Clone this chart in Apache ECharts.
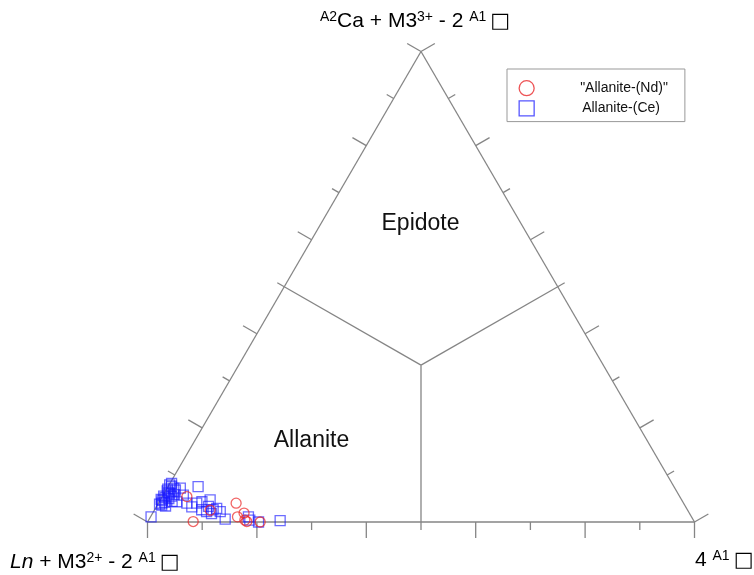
<!DOCTYPE html>
<html><head><meta charset="utf-8">
<script src="https://cdn.jsdelivr.net/npm/echarts@6/dist/echarts.min.js"></script>
<style>html,body{margin:0;padding:0;background:#fff}#c{width:754px;height:575px}</style>
</head><body><div id="c"></div>
<script>
// ---- data: ternary compositions in % ----
// components: Ln (bottom-left apex), Ca (top apex), vacancy (bottom-right apex)
const seriesNames = ['"Allanite-(Nd)"', 'Allanite-(Ce)'];

const ndLn  = [90.1, 91.6, 81.8, 83.0, 81.4, 82.0, 81.8, 79.4, 87.3];
const ndCa  = [ 5.4,  0.1,  4.0,  1.1,  1.9,  0.4,  0.1,  0.0,  2.5];
const ndVac = [ 4.5,  8.3, 14.2, 15.9, 16.7, 17.6, 18.1, 20.6, 10.2];

const ceLn  = [98.8, 91.5, 92.0, 91.6, 93.1, 93.0, 94.3, 93.6, 95.0, 94.8, 95.9, 95.0, 92.2, 93.3, 90.4, 87.0, 90.6, 92.5, 90.8, 90.3, 89.0, 87.9, 86.2, 87.2, 88.8, 88.1, 86.7, 85.9, 87.4, 85.6, 85.5, 81.0, 79.7, 75.6, 81.1, 91.8, 92.8, 93.0, 94.2, 95.1, 95.4, 91.5, 92.9, 95.6];
const ceCa  = [ 1.1,  8.2,  7.9,  7.2,  6.6,  6.0,  5.5,  5.0,  4.6,  4.2,  3.8,  3.4,  5.8,  4.4,  7.2,  7.5,  5.7,  4.3,  4.0,  3.2,  4.0,  4.3,  4.7,  3.3,  2.6,  2.2,  2.6,  2.9,  1.8,  2.2,  0.6,  1.1,  0.0,  0.3,  0.4,  7.6,  7.0,  6.3,  5.2,  4.8,  4.0,  6.8,  5.5,  3.6];
const ceVac = [ 0.1,  0.3,  0.1,  1.2,  0.3,  1.0,  0.2,  1.4,  0.4,  1.0,  0.3,  1.6,  2.0,  2.3,  2.4,  5.5,  3.7,  3.2,  5.2,  6.5,  7.0,  7.8,  9.1,  9.5,  8.6,  9.7, 10.7, 11.2, 10.8, 12.2, 13.9, 17.9, 20.3, 24.1, 18.5,  0.6,  0.2,  0.7,  0.6,  0.1,  0.6,  1.7,  1.6,  0.8];

const tickValues = [0, 10, 20, 30, 40, 50, 60, 70, 80, 90, 100];
const regionNames = ['Epidote', 'Allanite'];

// ---- ternary -> cartesian (x: 0..1 across base, y: 0..1 up to Ca apex) ----
function toXY(ln, ca, vac) {
  const s = ln + ca + vac;
  const a = ca / s, c = vac / s;
  return [c + a / 2, a];
}
const ndPts = ndLn.map((v, i) => toXY(v, ndCa[i], ndVac[i]));
const cePts = ceLn.map((v, i) => toXY(v, ceCa[i], ceVac[i]));

// frame: edges, inner boundary lines and ticks
const frameItems = [];
function seg(p, q) { const A = toXY(...p), B = toXY(...q); frameItems.push([A[0], A[1], B[0], B[1], 0, 0, 0]); }
seg([100, 0, 0], [0, 0, 100]);
seg([0, 0, 100], [0, 100, 0]);
seg([0, 100, 0], [100, 0, 0]);
const ctr = [100 / 3, 100 / 3, 100 / 3];
seg(ctr, [50, 50, 0]);
seg(ctr, [0, 50, 50]);
seg(ctr, [50, 0, 50]);
tickValues.forEach(t => {
  const len = (t % 20 === 0) ? 16 : 8;
  let P = toXY(100 - t, 0, t);            // base edge, ticks point down
  frameItems.push([P[0], P[1], P[0], P[1], 0, 1, len]);
  P = toXY(100 - t, t, 0);                // left edge, ticks point outward
  frameItems.push([P[0], P[1], P[0], P[1], -0.866, -0.5, len]);
  P = toXY(0, t, 100 - t);                // right edge, ticks point outward
  frameItems.push([P[0], P[1], P[0], P[1], 0.866, -0.5, len]);
});

const FONT = 'Liberation Sans, Arial, sans-serif';
const richLbl = {
  n: { fontSize: 21, fontFamily: FONT, color: '#111', lineHeight: 24, verticalAlign: 'bottom' },
  i: { fontSize: 21, fontFamily: FONT, color: '#111', lineHeight: 24, verticalAlign: 'bottom', fontStyle: 'italic' },
  s: { fontSize: 14, fontFamily: FONT, color: '#111', verticalAlign: 'bottom', padding: [0, 0, 8, 0] },
  b: { fontSize: 21, fontFamily: 'DejaVu Sans', fontWeight: 'bold', color: '#111', lineHeight: 24, verticalAlign: 'bottom', padding: [0, 0, 0, 4] }
};

const chart = echarts.init(document.getElementById('c'), null, { renderer: 'canvas' });
chart.setOption({
  animation: false,
  backgroundColor: '#fff',
  grid: { left: 147.5, top: 51.5, width: 547, height: 470.5 },
  xAxis: { type: 'value', min: 0, max: 1, show: false },
  yAxis: { type: 'value', min: 0, max: 1, show: false },
  legend: {
    left: 507, top: 69,
    orient: 'vertical',
    padding: [11, 17, 5, 11.5],
    itemGap: 4,
    itemWidth: 15, itemHeight: 15,
    borderColor: '#999', borderWidth: 1,
    textStyle: { fontFamily: FONT, fontSize: 14, color: '#111' },
    data: [
      { name: seriesNames[0], icon: 'circle', itemStyle: { color: 'transparent', borderColor: '#e8282a', borderWidth: 1.3 }, textStyle: { padding: [0, 0, 0, 41] } },
      { name: seriesNames[1], icon: 'rect', itemStyle: { color: 'transparent', borderColor: '#2a2aff', borderWidth: 1.3 }, textStyle: { padding: [0, 0, 0, 43] } }
    ]
  },
  series: [
    {
      type: 'custom', name: 'frame', silent: true, clip: false, z: 1,
      data: frameItems,
      encode: { x: [0, 2], y: [1, 3] },
      renderItem: function (params, api) {
        const p1 = api.coord([api.value(0), api.value(1)]);
        const p2 = api.coord([api.value(2), api.value(3)]);
        const len = api.value(6);
        return {
          type: 'line',
          shape: { x1: p1[0], y1: p1[1], x2: p2[0] + api.value(4) * len, y2: p2[1] + api.value(5) * len },
          style: { stroke: '#858585', lineWidth: 1.3 }
        };
      }
    },
    {
      type: 'scatter', name: seriesNames[1], data: cePts, symbol: 'rect', symbolSize: 10, z: 3,
      itemStyle: { color: 'transparent', borderColor: 'rgba(25,25,255,0.8)', borderWidth: 1.3 }
    },
    {
      type: 'scatter', name: seriesNames[0], data: ndPts, symbol: 'circle', symbolSize: 10, z: 4,
      itemStyle: { color: 'transparent', borderColor: 'rgba(235,30,30,0.85)', borderWidth: 1.3 }
    }
  ],
  graphic: [
    { type: 'text', x: 420.5, y: 224, style: { text: regionNames[0], font: '23px ' + FONT, fill: '#111', textAlign: 'center', textVerticalAlign: 'middle', align: 'center', verticalAlign: 'middle' } },
    { type: 'text', x: 311.5, y: 441, style: { text: regionNames[1], font: '23px ' + FONT, fill: '#111', textAlign: 'center', textVerticalAlign: 'middle', align: 'center', verticalAlign: 'middle' } },
    { type: 'text', x: 320, y: 8, style: { text: '{s|A2}{n|Ca + M3}{s|3+}{n| - 2 }{s|A1}{b|\u25A1}', rich: richLbl } },
    { type: 'text', x: 10, y: 549, style: { text: '{i|Ln}{n| + M3}{s|2+}{n| - 2 }{s|A1}{b|\u25A1}', rich: richLbl } },
    { type: 'text', x: 695, y: 547, style: { text: '{n|4 }{s|A1}{b|\u25A1}', rich: richLbl } }
  ]
});
</script>
</body></html>
